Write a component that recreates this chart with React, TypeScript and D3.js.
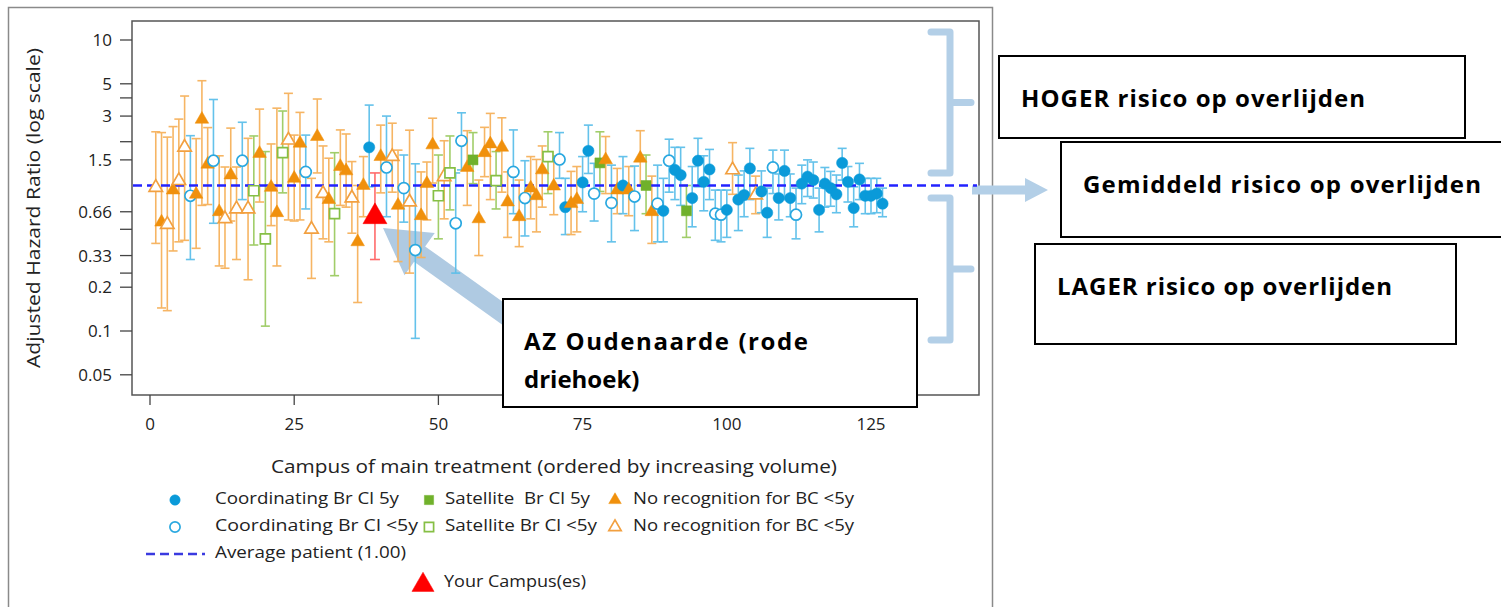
import * as React from "react";
import { scaleLinear, scaleLog, symbol, symbolCircle, symbolSquare, symbolTriangle } from "d3";

// campus rank = index + 1 (ordered by increasing volume)
// C5 coordinating 5y, C coordinating <5y, S5 satellite 5y, S satellite <5y,
// N5 no recognition (filled), N no recognition (open), Y your campus
const GROUP = [
  "N", "N5", "N", "N5", "N", "N", "C", "N5", "N5", "N5",
  "C", "N5", "N", "N5", "N", "C", "N", "S", "N5", "S",
  "N5", "N5", "S", "N", "N5", "N5", "C", "N", "N5", "N",
  "N5", "S", "N5", "N5", "N", "N5", "N5", "C5", "Y", "N5",
  "C", "N", "N5", "C", "N", "C", "N5", "N5", "N5", "S",
  "N", "S", "C", "C", "N5", "S5", "N5", "N5", "N5", "S",
  "N5", "N5", "C", "N5", "C", "N5", "N5", "N5", "S", "N5",
  "C", "C5", "N5", "N5", "C5", "C5", "C", "S5", "N5", "C",
  "N5", "C5", "N5", "C", "N5", "S5", "N5", "C", "C5", "C",
  "C5", "C5", "S5", "C5", "C5", "C5", "C5", "C", "C", "C5",
  "N", "C5", "C5", "C5", "N", "C5", "C5", "C", "C5", "C5",
  "C5", "C", "C5", "C5", "C5", "C5", "C5", "C5", "C5", "C5",
  "C5", "C5", "C5", "C5", "C5", "C5", "C5",
];

const HR = [
  0.97, 0.56, 0.54, 0.93, 1.08, 1.83, 0.85, 0.87, 2.85, 1.4,
  1.48, 0.66, 0.59, 1.18, 0.69, 1.48, 0.69, 0.92, 1.66, 0.43,
  0.97, 0.65, 1.68, 2.05, 1.12, 1.95, 1.24, 0.5, 2.17, 0.88,
  0.8, 0.64, 1.35, 1.26, 0.82, 0.41, 1.0, 1.83, 0.61, 1.58,
  1.33, 1.58, 0.73, 0.96, 0.77, 0.36, 0.62, 1.03, 1.9, 0.85,
  1.15, 1.22, 0.55, 2.03, 1.33, 1.5, 0.59, 1.68, 1.93, 1.08,
  1.83, 0.77, 1.24, 0.61, 0.82, 0.96, 0.85, 1.28, 1.58, 0.99,
  1.51, 0.71, 0.75, 0.8, 1.05, 1.73, 0.88, 1.43, 1.5, 0.76,
  0.93, 1.0, 0.93, 0.84, 1.54, 1.0, 0.66, 0.75, 0.67, 1.48,
  1.28, 1.18, 0.67, 0.82, 1.48, 1.06, 1.29, 0.64, 0.63, 0.68,
  1.28, 0.8, 0.86, 1.31, 0.86, 0.91, 0.65, 1.33, 0.82, 1.26,
  0.82, 0.63, 1.03, 1.15, 1.09, 0.68, 1.03, 0.96, 0.87, 1.43,
  1.06, 0.7, 1.1, 0.85, 0.85, 0.88, 0.75,
];

const LO = [
  0.4, 0.144, 0.138, 0.355, 0.41, 0.42, 0.31, 0.37, 0.73, 0.74,
  0.55, 0.28, 0.27, 0.57, 0.31, 0.8, 0.225, 0.39, 0.77, 0.108,
  0.53, 0.28, 0.89, 0.58, 0.57, 0.58, 0.69, 0.23, 1.22, 0.43,
  0.41, 0.24, 0.73, 0.71, 0.47, 0.157, 0.61, 0.98, 0.31, 0.89,
  0.61, 0.9, 0.3, 0.56, 0.25, 0.089, 0.32, 0.58, 1.04, 0.43,
  0.59, 0.68, 0.25, 1.28, 0.73, 1.03, 0.33, 1.15, 0.8, 0.69,
  0.9, 0.44, 0.64, 0.38, 0.45, 0.59, 0.48, 0.71, 0.88, 0.63,
  1.12, 0.46, 0.46, 0.48, 0.66, 1.21, 0.57, 0.91, 0.88, 0.41,
  0.64, 0.64, 0.62, 0.49, 1.0, 0.64, 0.4, 0.41, 0.41, 0.9,
  0.8, 0.73, 0.44, 0.52, 0.98, 0.67, 0.8, 0.42, 0.41, 0.44,
  0.87, 0.49, 0.61, 0.8, 0.64, 0.65, 0.44, 0.88, 0.58, 0.8,
  0.61, 0.43, 0.75, 0.84, 0.82, 0.48, 0.71, 0.72, 0.65, 1.09,
  0.77, 0.52, 0.8, 0.64, 0.64, 0.65, 0.61,
];

const HI = [
  2.34, 2.31, 2.15, 2.54, 2.86, 4.12, 2.2, 2.1, 5.25, 2.5,
  3.9, 1.6, 1.34, 2.48, 1.34, 2.72, 2.11, 2.19, 3.35, 1.71,
  1.93, 3.4, 3.25, 4.3, 2.22, 3.18, 2.22, 1.12, 3.93, 1.87,
  1.54, 1.68, 2.41, 2.26, 1.46, 1.0, 1.58, 3.57, 1.22, 2.6,
  3.0, 2.68, 1.75, 1.62, 2.4, 1.41, 1.24, 1.45, 2.9, 1.62,
  2.03, 2.19, 1.22, 3.16, 2.38, 2.31, 1.09, 2.51, 3.13, 1.71,
  2.92, 1.24, 2.41, 1.09, 1.48, 1.58, 1.51, 1.87, 2.34, 1.6,
  2.31, 1.12, 1.25, 1.35, 1.58, 2.6, 1.42, 2.34, 2.17, 1.38,
  1.31, 1.58, 1.35, 1.36, 2.38, 1.62, 1.16, 1.38, 1.12, 2.08,
  1.83, 1.83, 1.0, 1.35, 2.11, 1.6, 1.77, 0.93, 0.93, 0.93,
  1.97, 1.18, 1.26, 1.8, 1.16, 1.26, 0.96, 1.75, 1.2, 1.75,
  1.2, 0.96, 1.38, 1.5, 1.45, 0.96, 1.33, 1.25, 1.18, 1.8,
  1.35, 0.98, 1.42, 1.12, 1.12, 1.12, 0.96,
];

const Y_LABELED = [10, 5, 3, 1.5, 0.66, 0.33, 0.2, 0.1, 0.05];
const Y_MINOR = [4, 2, 0.5, 0.25];
const X_TICKS = [0, 25, 50, 75, 100, 125];
const AVERAGE = 1;

const STYLE: Record<string, any> = {
  C5: { shape: symbolCircle, fill: "#0a9ad9", stroke: "#0a9ad9", bar: "#5cbfea", size: 100 },
  C: { shape: symbolCircle, fill: "#fff", stroke: "#29a8e0", bar: "#5cbfea", size: 96 },
  S5: { shape: symbolSquare, fill: "#70b12b", stroke: "#70b12b", bar: "#9ccb62", size: 100 },
  S: { shape: symbolSquare, fill: "#fff", stroke: "#86bf45", bar: "#9ccb62", size: 100 },
  N5: { shape: symbolTriangle, fill: "#f0900c", stroke: "#f0900c", bar: "#f6b25c", size: 80 },
  N: { shape: symbolTriangle, fill: "#fff", stroke: "#f2a040", bar: "#f6b25c", size: 78 },
  Y: { shape: symbolTriangle, fill: "#ff0000", stroke: "#ff0000", bar: "#ff6b6b", size: 250 },
};

const FONT = "'Open Sans', sans-serif";
const PALE = "#b3cfe7";

function Marker({ g, x, y, legend }: { g: string; x: number; y: number; legend?: boolean }) {
  const s = STYLE[g];
  const d = symbol().type(s.shape).size(legend ? s.size * 0.85 : s.size)() as string;
  return (
    <path
      d={d}
      transform={`translate(${x},${y})`}
      fill={s.fill}
      stroke={s.stroke}
      strokeWidth={s.fill === "#fff" ? 1.7 : 0.5}
    />
  );
}

// text stretched to the width it has in the reference (the original is a widened Calibri)
function Wide({ x, y, w, children, size = 17 }: any) {
  return (
    <text x={x} y={y} fontSize={size} textLength={w} lengthAdjust="spacingAndGlyphs" style={{ whiteSpace: "pre" }}>
      {children}
    </text>
  );
}

export default function App() {
  const x = scaleLinear().domain([0, 125]).range([150, 871]);
  const y = scaleLog().domain([0.1, 10]).range([331, 40]);

  const frame = { left: 132, top: 21, right: 979, bottom: 395 };

  const points = HR.map((v, i) => ({ rank: i + 1, g: GROUP[i], hr: v, lo: LO[i], hi: HI[i] }));
  const order = [...points.filter((p) => p.g !== "Y"), ...points.filter((p) => p.g === "Y")];

  // big arrow from the annotation box to the red triangle
  const tip = [383, 228];
  const tail = [512, 320];
  const len = Math.hypot(tail[0] - tip[0], tail[1] - tip[1]);
  const ux = (tail[0] - tip[0]) / len;
  const uy = (tail[1] - tip[1]) / len;
  const px = -uy;
  const py = ux;
  const headL = 45;
  const headW = 26;
  const shaftW = 9.5;
  const bx = tip[0] + ux * headL;
  const by = tip[1] + uy * headL;
  const arrowPts = [
    [tip[0], tip[1]],
    [bx + px * headW, by + py * headW],
    [bx + px * shaftW, by + py * shaftW],
    [tail[0] + px * shaftW, tail[1] + py * shaftW],
    [tail[0] - px * shaftW, tail[1] - py * shaftW],
    [bx - px * shaftW, by - py * shaftW],
    [bx - px * headW, by - py * headW],
  ]
    .map((p) => p.join(","))
    .join(" ");

  const bracket = (top: number, bottom: number) => {
    const mid = (top + bottom) / 2;
    return `M931,${top} H950 V${bottom} H931 M950,${mid} H971`;
  };

  return (
    <svg
      width={1501}
      height={607}
      style={{ position: "absolute", left: 0, top: 0, background: "#fff" }}
      fontFamily={FONT}
    >
      {/* outer frame */}
      <rect x={8.5} y={7.5} width={984} height={620} fill="none" stroke="#8a8a8a" strokeWidth={1.5} />
      {/* plot frame */}
      <rect
        x={frame.left}
        y={frame.top}
        width={frame.right - frame.left}
        height={frame.bottom - frame.top}
        fill="none"
        stroke="#555"
        strokeWidth={1.5}
      />

      {/* y axis */}
      {[...Y_LABELED, ...Y_MINOR].map((t) => (
        <line key={"yt" + t} x1={120} x2={frame.left} y1={y(t)} y2={y(t)} stroke="#444" strokeWidth={1.3} />
      ))}
      {Y_LABELED.map((t) => (
        <text key={"yl" + t} x={112} y={y(t)} dy="0.36em" textAnchor="end" fontSize={17} fill="#222">
          {t}
        </text>
      ))}
      <g transform="translate(40,368) rotate(-90)" fill="#222">
        <Wide x={0} y={0} w={320} size={18}>
          Adjusted Hazard Ratio (log scale)
        </Wide>
      </g>

      {/* x axis */}
      {X_TICKS.map((t) => (
        <g key={"xt" + t}>
          <line x1={x(t)} x2={x(t)} y1={frame.bottom} y2={405} stroke="#444" strokeWidth={1.3} />
          <text x={x(t)} y={430} textAnchor="middle" fontSize={17} fill="#222">
            {t}
          </text>
        </g>
      ))}
      <g fill="#222">
        <Wide x={271} y={473} w={566} size={19}>
          Campus of main treatment (ordered by increasing volume)
        </Wide>
      </g>

      {/* brackets + arrows */}
      <path d={bracket(32, 173)} fill="none" stroke={PALE} strokeWidth={7} strokeLinecap="round" strokeLinejoin="round" />
      <path d={bracket(198, 340)} fill="none" stroke={PALE} strokeWidth={7} strokeLinecap="round" strokeLinejoin="round" />
      <polygon points="972,185.5 1025,185.5 1025,178 1048,190 1025,202 1025,194.5 972,194.5" fill={PALE} />
      <polygon points={arrowPts} fill="#a6c4df" opacity={0.9} />

      {/* error bars */}
      {order.map((p) => {
        const s = STYLE[p.g];
        const cx = x(p.rank);
        const c = p.g === "Y" ? 5 : 4.5;
        return (
          <g key={"b" + p.rank} stroke={s.bar} strokeWidth={1.6} opacity={p.g === "Y" ? 1 : 0.95}>
            <line x1={cx} x2={cx} y1={y(p.lo)} y2={y(p.hi)} />
            <line x1={cx - c} x2={cx + c} y1={y(p.lo)} y2={y(p.lo)} />
            <line x1={cx - c} x2={cx + c} y1={y(p.hi)} y2={y(p.hi)} />
          </g>
        );
      })}

      {/* average patient */}
      <line
        x1={frame.left + 1}
        x2={977}
        y1={y(AVERAGE)}
        y2={y(AVERAGE)}
        stroke="#2323ff"
        strokeWidth={2.5}
        strokeDasharray="9 5"
      />

      {/* markers */}
      {order.map((p) => (
        <Marker key={"m" + p.rank} g={p.g} x={x(p.rank)} y={y(p.hr)} />
      ))}

      {/* legend */}
      <g fill="#222">
        <Marker g="C5" x={175} y={500} legend />
        <Wide x={215} y={504} w={184}>Coordinating Br Cl 5y</Wide>
        <Marker g="S5" x={429} y={500} legend />
        <Wide x={445} y={504} w={145}>{"Satellite  Br Cl 5y"}</Wide>
        <Marker g="N5" x={615} y={500} legend />
        <Wide x={633} y={504} w={221}>No recognition for BC &lt;5y</Wide>

        <Marker g="C" x={175} y={527} legend />
        <Wide x={215} y={531} w={203}>Coordinating Br Cl &lt;5y</Wide>
        <Marker g="S" x={429} y={527} legend />
        <Wide x={445} y={531} w={152}>Satellite Br Cl &lt;5y</Wide>
        <Marker g="N" x={615} y={527} legend />
        <Wide x={633} y={531} w={221}>No recognition for BC &lt;5y</Wide>

        <line x1={146} x2={205} y1={554} y2={554} stroke="#3a3ae0" strokeWidth={2.5} strokeDasharray="9 5" />
        <Wide x={215} y={558} w={191}>Average patient (1.00)</Wide>

        <Marker g="Y" x={423} y={585} legend />
        <Wide x={444} y={587} w={142}>Your Campus(es)</Wide>
      </g>

      {/* annotation boxes */}
      <g fontWeight={700} fill="#000">
        <rect x={503} y={299} width={414} height={108} fill="#fff" stroke="#000" strokeWidth={2} />
        <text x={524} y={350} fontSize={24} textLength={284} lengthAdjust="spacing">
          AZ Oudenaarde (rode
        </text>
        <text x={524} y={388} fontSize={24}>
          driehoek)
        </text>

        <rect x={999} y={56} width={466} height={82} fill="#fff" stroke="#000" strokeWidth={2} />
        <text x={1021} y={107} fontSize={24} textLength={344} lengthAdjust="spacing">
          HOGER risico op overlijden
        </text>

        <rect x={1061} y={142} width={460} height={95} fill="#fff" stroke="#000" strokeWidth={2} />
        <text x={1083} y={193} fontSize={24} textLength={398} lengthAdjust="spacing">
          Gemiddeld risico op overlijden
        </text>

        <rect x={1035} y={244} width={421} height={100} fill="#fff" stroke="#000" strokeWidth={2} />
        <text x={1057} y={295} fontSize={24} textLength={335} lengthAdjust="spacing">
          LAGER risico op overlijden
        </text>
      </g>
    </svg>
  );
}
